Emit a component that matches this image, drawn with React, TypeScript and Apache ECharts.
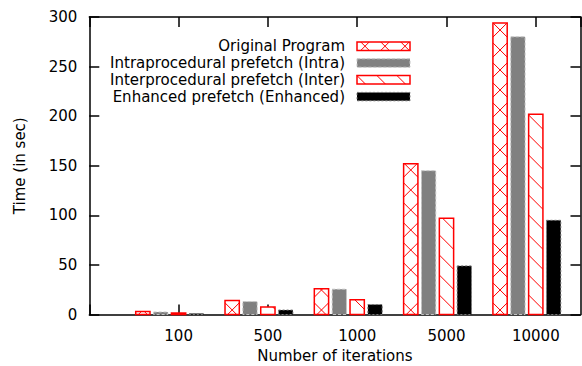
import React, { useEffect, useRef } from "react";
import * as echarts from "echarts";

const categories = ["100", "500", "1000", "5000", "10000"];
const originalProgram = [3, 14, 26, 152, 294];
const intraprocedural = [2.5, 13, 25.5, 145, 280];
const interprocedural = [1.5, 7.5, 15, 97, 202];
const enhanced = [1, 4.5, 10, 49, 95];
const seriesNames = [
  "Original Program",
  "Intraprocedural prefetch (Intra)",
  "Interprocedural prefetch (Inter)",
  "Enhanced prefetch (Enhanced)",
];
const seriesValues = [originalProgram, intraprocedural, interprocedural, enhanced];
const seriesKinds = ["cross", "gray", "diag", "black"];

const FONT = "DejaVu Sans";
const RED = "#ff0000";

function hatch(x0: number, y0: number, x1: number, y1: number, dir: number, p: number, ax: number, ay: number) {
  const segs: number[][] = [];
  const c = ay - dir * ax;
  let umin: number, umax: number;
  if (dir === 1) { umin = y0 - x1; umax = y1 - x0; } else { umin = y0 + x0; umax = y1 + x1; }
  const nStart = Math.ceil((umin - c) / p);
  const nEnd = Math.floor((umax - c) / p);
  for (let n = nStart; n <= nEnd; n++) {
    const u = c + n * p;
    let xa: number, xb: number;
    if (dir === 1) { xa = Math.max(x0, y0 - u); xb = Math.min(x1, y1 - u); }
    else { xa = Math.max(x0, u - y1); xb = Math.min(x1, u - y0); }
    if (xb - xa > 0.3) segs.push([xa, u + dir * xa, xb, u + dir * xb]);
  }
  return segs;
}

function boxElements(kind: string, x0: number, y0: number, x1: number, y1: number, anchorX: number, anchorY: number) {
  const els: any[] = [];
  const w = x1 - x0, h = y1 - y0;
  if (kind === "cross" || kind === "diag") {
    els.push({ type: "rect", shape: { x: x0, y: y0, width: w, height: h }, style: { fill: "#fff" }, silent: true });
    const dirs = kind === "cross" ? [1, -1] : [1];
    dirs.forEach((d) => {
      hatch(x0, y0, x1, y1, d, 20, anchorX, anchorY).forEach((s) => {
        els.push({ type: "line", shape: { x1: s[0], y1: s[1], x2: s[2], y2: s[3] }, style: { stroke: RED, lineWidth: 1 }, silent: true });
      });
    });
    els.push({ type: "rect", shape: { x: x0, y: y0, width: w, height: h }, style: { fill: "none", stroke: RED, lineWidth: 1.5 }, silent: true });
  } else if (kind === "gray") {
    els.push({ type: "rect", shape: { x: x0, y: y0, width: w, height: h }, style: { fill: "#808080", stroke: "#c4c4c4", lineWidth: 1, lineDash: [3, 2] }, silent: true });
  } else {
    els.push({ type: "rect", shape: { x: x0, y: y0, width: w, height: h }, style: { fill: "#000", stroke: "#777", lineWidth: 1, lineDash: [2, 2] }, silent: true });
  }
  return els;
}

function makeRender(s: number) {
  const kind = seriesKinds[s];
  return (params: any, api: any) => {
    const i = api.value(0);
    const v = api.value(1);
    const base = api.coord([i, 0]);
    const top = api.coord([i, v]);
    const band = api.size([1, 0])[0];
    const w = band * 0.16;
    const step = band * 0.2;
    const cx = base[0] + (s - 1.5) * step;
    const x0 = cx - w / 2, x1 = cx + w / 2;
    const anchorX = kind === "cross" ? cx : x0;
    const anchorY = kind === "cross" ? 10 : 15;
    return { type: "group", children: boxElements(kind, x0, top[1], x1, base[1], anchorX, anchorY) };
  };
}

function legendGraphic() {
  const children: any[] = [];
  const sx0 = 357, sx1 = 410, textX = 345;
  seriesNames.forEach((name, r) => {
    const yc = 46.2 + r * 16.8;
    const y0 = yc - 4.2, y1 = yc + 4.2;
    children.push({
      type: "text",
      style: { text: name, x: textX, y: yc, align: "right", verticalAlign: "middle", textAlign: "right", textVerticalAlign: "middle", font: `15px "${FONT}"`, fill: "#000" },
      silent: true,
    });
    const kind = seriesKinds[r];
    const ax = kind === "cross" ? 365 : sx0;
    const ay = kind === "cross" ? yc : y0;
    boxElements(kind, sx0, y0, sx1, y1, ax, ay).forEach((e) => children.push(e));
  });
  return children;
}

const axisLineStyle = { color: "#000", width: 1.5 };
const labelStyle = { fontFamily: FONT, fontSize: 15, color: "#000" };

export default function App() {
  const ref = useRef<HTMLDivElement>(null);
  useEffect(() => {
    document.body.style.margin = "0";
    if (!ref.current) return;
    const chart = echarts.init(ref.current, null, { renderer: "svg" });
    const frameGrid = { left: 89.3, right: 1.5, top: 17, bottom: 51.5, containLabel: false, outerBoundsMode: "none" };
    const barGrid = { left: 125, right: 10.5, top: 17, bottom: 51.5, containLabel: false, outerBoundsMode: "none" };
    const xFormatter = (v: number) => (Number.isInteger(v) && v >= 0 && v < categories.length ? categories[v] : "");
    chart.setOption({
      animation: false,
      backgroundColor: "#fff",
      grid: [frameGrid, barGrid],
      xAxis: [
        {
          gridIndex: 0, type: "value", min: -1, max: 4.5, interval: 1, position: "bottom",
          axisLine: { onZero: false, lineStyle: axisLineStyle },
          axisTick: { inside: true, length: 10, lineStyle: axisLineStyle },
          axisLabel: { ...labelStyle, margin: 14, formatter: xFormatter, showMaxLabel: false },
          splitLine: { show: false },
          name: "Number of iterations", nameLocation: "middle", nameGap: 32,
          nameTextStyle: labelStyle,
        },
        {
          gridIndex: 0, type: "value", min: -1, max: 4.5, interval: 1, position: "top",
          axisLine: { onZero: false, lineStyle: axisLineStyle },
          axisTick: { inside: true, length: 10, lineStyle: axisLineStyle },
          axisLabel: { show: false },
          splitLine: { show: false },
        },
        { gridIndex: 1, type: "category", data: categories, boundaryGap: true, show: false },
      ],
      yAxis: [
        {
          gridIndex: 0, type: "value", min: 0, max: 300, interval: 50, position: "left",
          axisLine: { show: true, onZero: false, lineStyle: axisLineStyle },
          axisTick: { show: true, inside: true, length: 10, lineStyle: axisLineStyle },
          axisLabel: { ...labelStyle, margin: 12 },
          splitLine: { show: false },
          name: "Time (in sec)", nameLocation: "middle", nameGap: 62,
          nameTextStyle: labelStyle,
        },
        {
          gridIndex: 0, type: "value", min: 0, max: 300, interval: 50, position: "right",
          axisLine: { show: true, onZero: false, lineStyle: axisLineStyle },
          axisTick: { show: true, inside: true, length: 10, lineStyle: axisLineStyle },
          axisLabel: { show: false },
          splitLine: { show: false },
        },
        { gridIndex: 1, type: "value", min: 0, max: 300, show: false },
      ],
      series: seriesNames.map((name, s) => ({
        name,
        type: "custom",
        xAxisIndex: 2,
        yAxisIndex: 2,
        renderItem: makeRender(s),
        data: seriesValues[s].map((v, i) => [i, v]),
        silent: true,
      })),
      graphic: { elements: legendGraphic() },
    });
    return () => chart.dispose();
  }, []);
  return <div ref={ref} style={{ width: 582, height: 366 }} />;
}
